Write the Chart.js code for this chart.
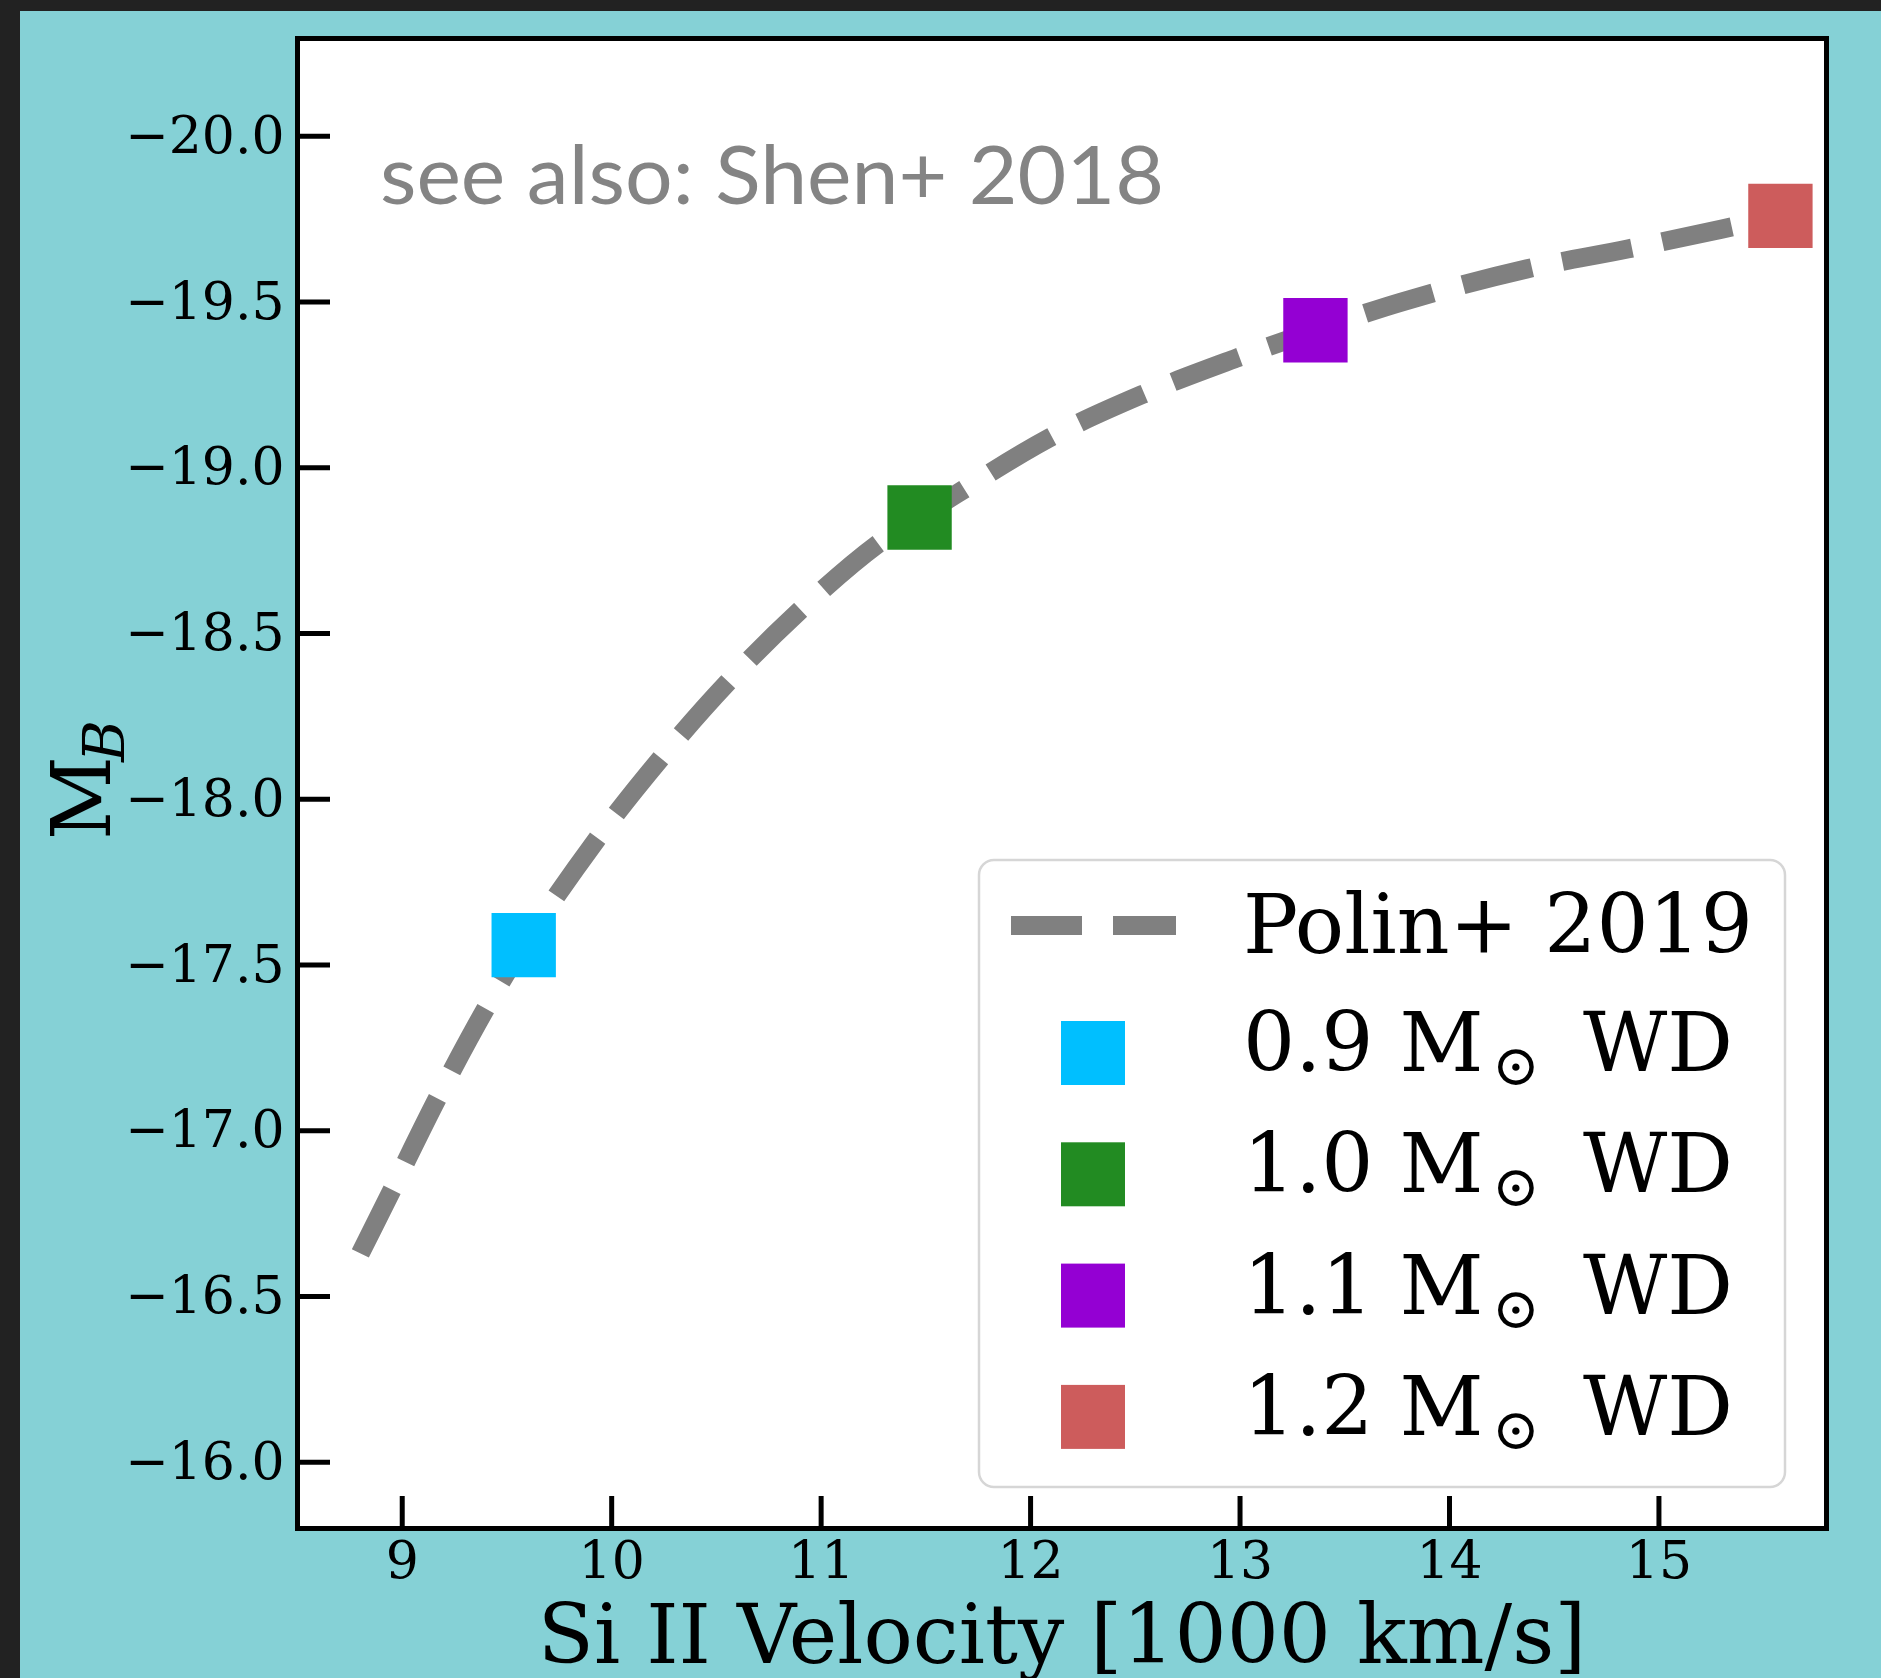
<!DOCTYPE html>
<html>
<head>
<meta charset="utf-8">
<script src="https://cdn.jsdelivr.net/npm/chart.js@4/dist/chart.umd.min.js"></script>
<style>
  html, body { margin: 0; padding: 0; background: #222222; }
  canvas { display: block; }
</style>
</head>
<body>
<canvas id="c" width="1881" height="1678"></canvas>
<script>
// ---- data ----
const xTicks = [9, 10, 11, 12, 13, 14, 15];
const yTicks = [-20.0, -19.5, -19.0, -18.5, -18.0, -17.5, -17.0, -16.5, -16.0];
const curveName = 'Polin+ 2019';
const curveX = [8.80, 8.95, 9.17, 9.40, 9.58, 9.93, 10.23, 10.55, 10.90, 11.27, 11.47, 12.09, 12.53, 12.98, 13.36, 13.77, 14.37, 14.85, 15.30, 15.58];
const curveY = [-16.63, -16.82, -17.10, -17.37, -17.56, -17.88, -18.12, -18.35, -18.57, -18.77, -18.85, -19.09, -19.22, -19.33, -19.415, -19.50, -19.60, -19.66, -19.72, -19.76];
const massNames = ['0.9', '1.0', '1.1', '1.2'];
const massX = [9.58, 11.47, 13.36, 15.58];
const massY = [-17.56, -18.85, -19.415, -19.76];
const massColors = ['#00BFFF', '#228B22', '#9400D3', '#CD5C5C'];
const noteText = 'see also: Shen+ 2018';
const xTitle = 'Si II Velocity [1000 km/s]';

// ---- styles ----
const W = 1881, H = 1678;
const TEAL = 'rgb(133,209,214)';
const SERIF = '"DejaVu Serif", "DejaVu Sans", serif';
const AREA = { left: 297.5, top: 38.5, right: 1826.5, bottom: 1528.5 };

const datasets = massNames.map((n, i) => ({
  label: n + ' M\u2299 WD',
  data: [{ x: massX[i], y: massY[i] }],
  pointStyle: 'rect',
  pointRadius: 45.5,
  pointBackgroundColor: massColors[i],
  pointBorderWidth: 0,
  showLine: false,
  order: 0
}));
datasets.push({
  label: curveName,
  data: curveX.map((x, i) => ({ x: x, y: curveY[i] })),
  showLine: true,
  borderColor: '#808080',
  borderWidth: 19,
  borderDash: [71, 31],
  borderCapStyle: 'butt',
  cubicInterpolationMode: 'monotone',
  pointRadius: 0,
  fill: false,
  order: 10
});

function zeroPad(s) { s.paddingTop = 0; s.paddingBottom = 0; s.paddingLeft = 0; s.paddingRight = 0; }

const custom = {
  id: 'custom',
  beforeDraw(chart) {
    const ctx = chart.ctx, a = chart.chartArea;
    ctx.save();
    ctx.fillStyle = '#222222'; ctx.fillRect(0, 0, W, H);
    ctx.fillStyle = TEAL; ctx.fillRect(20, 11, W - 20, H - 11);
    ctx.fillStyle = '#ffffff'; ctx.fillRect(a.left, a.top, a.right - a.left, a.bottom - a.top);
    ctx.restore();
  },
  afterDraw(chart) {
    const ctx = chart.ctx, a = chart.chartArea;
    const xs = chart.scales.x, ys = chart.scales.y;
    ctx.save();
    // ticks (inward)
    ctx.strokeStyle = '#000'; ctx.lineWidth = 5; ctx.lineCap = 'butt';
    xTicks.forEach(v => {
      const p = xs.getPixelForValue(v);
      ctx.beginPath(); ctx.moveTo(p, a.bottom); ctx.lineTo(p, a.bottom - 32.5); ctx.stroke();
    });
    yTicks.forEach(v => {
      const p = ys.getPixelForValue(v);
      ctx.beginPath(); ctx.moveTo(a.left, p); ctx.lineTo(a.left + 32.5, p); ctx.stroke();
    });
    // frame
    ctx.lineJoin = 'miter';
    ctx.strokeRect(a.left, a.top, a.right - a.left, a.bottom - a.top);

    // annotation
    ctx.save();
    ctx.fillStyle = '#848484';
    ctx.font = '82px Lato, "Open Sans", sans-serif';
    ctx.textAlign = 'left'; ctx.textBaseline = 'alphabetic';
    const nw = ctx.measureText(noteText).width;
    ctx.translate(380, 204);
    ctx.scale(784 / nw, 1);
    ctx.fillText(noteText, 0, 0);
    ctx.restore();

    // legend box
    const lx = 979, ly = 860, lw = 806, lh = 627, r = 15;
    ctx.beginPath();
    ctx.moveTo(lx + r, ly);
    ctx.arcTo(lx + lw, ly, lx + lw, ly + lh, r);
    ctx.arcTo(lx + lw, ly + lh, lx, ly + lh, r);
    ctx.arcTo(lx, ly + lh, lx, ly, r);
    ctx.arcTo(lx, ly, lx + lw, ly, r);
    ctx.closePath();
    ctx.fillStyle = 'rgba(255,255,255,0.8)'; ctx.fill();
    ctx.strokeStyle = '#d6d6d6'; ctx.lineWidth = 2.5; ctx.stroke();

    // legend line handle
    ctx.strokeStyle = '#808080'; ctx.lineWidth = 19; ctx.setLineDash([71, 31]);
    ctx.beginPath(); ctx.moveTo(1011, 925.5); ctx.lineTo(1176, 925.5); ctx.stroke();
    ctx.setLineDash([]);
    const tx = 1243;
    ctx.fillStyle = '#000';
    ctx.font = '82px ' + SERIF;
    ctx.textAlign = 'left';
    ctx.fillText(curveName, tx, 953);

    // legend markers + labels
    massNames.forEach((n, i) => {
      const cy = 1053 + i * 121.3;
      ctx.fillStyle = massColors[i];
      ctx.fillRect(1061, cy - 32, 64, 64);
      const base = cy + 18;
      ctx.fillStyle = '#000';
      ctx.font = '82px ' + SERIF;
      ctx.textAlign = 'left';
      ctx.fillText(n + ' M', tx, base);
      ctx.fillText('WD', tx + 340, base);
      ctx.font = '57px ' + SERIF;
      const m = ctx.measureText('\u2299');
      const cxo = tx + 273 - (m.actualBoundingBoxRight - m.actualBoundingBoxLeft) / 2;
      const by = base - 4 + (m.actualBoundingBoxAscent - m.actualBoundingBoxDescent) / 2;
      ctx.fillText('\u2299', cxo, by);
    });

    // x title
    ctx.fillStyle = '#000';
    ctx.font = '82px ' + SERIF;
    ctx.textAlign = 'center';
    ctx.fillText(xTitle, (a.left + a.right) / 2, 1663);

    // y title M_B
    ctx.save();
    ctx.translate(110, 840);
    ctx.rotate(-Math.PI / 2);
    ctx.textAlign = 'left';
    ctx.font = '82px ' + SERIF;
    ctx.fillText('M', 0, 0);
    ctx.font = 'italic 57px ' + SERIF;
    ctx.fillText('B', 78, 14);
    ctx.restore();

    ctx.restore();
  }
};

new Chart(document.getElementById('c').getContext('2d'), {
  type: 'scatter',
  data: { datasets: datasets },
  options: {
    responsive: false,
    animation: false,
    events: [],
    devicePixelRatio: 1,
    layout: { autoPadding: false, padding: { left: 0, top: AREA.top, right: W - AREA.right, bottom: 0 } },
    plugins: { legend: { display: false }, tooltip: { enabled: false } },
    scales: {
      x: {
        type: 'linear', position: 'bottom', min: 8.5, max: 15.8,
        afterBuildTicks(s) { s.ticks = xTicks.map(v => ({ value: v })); },
        afterFit(s) { s.height = H - AREA.bottom; zeroPad(s); },
        grid: { display: false, drawTicks: false },
        border: { display: false },
        ticks: {
          color: '#000', padding: 5,
          font: { family: SERIF, size: 52 },
          maxRotation: 0, autoSkip: false,
          callback: v => String(v)
        }
      },
      y: {
        type: 'linear', position: 'left', reverse: true, min: -20.295, max: -15.8,
        afterBuildTicks(s) { s.ticks = yTicks.map(v => ({ value: v })); },
        afterFit(s) { s.width = AREA.left; zeroPad(s); },
        grid: { display: false, drawTicks: false },
        border: { display: false },
        ticks: {
          color: '#000', padding: 13, labelOffset: 3,
          font: { family: SERIF, size: 52, lineHeight: 0.1 },
          autoSkip: false,
          callback: v => Number(v).toFixed(1).replace('-', '\u2212')
        }
      }
    }
  },
  plugins: [custom]
});
</script>
</body>
</html>
